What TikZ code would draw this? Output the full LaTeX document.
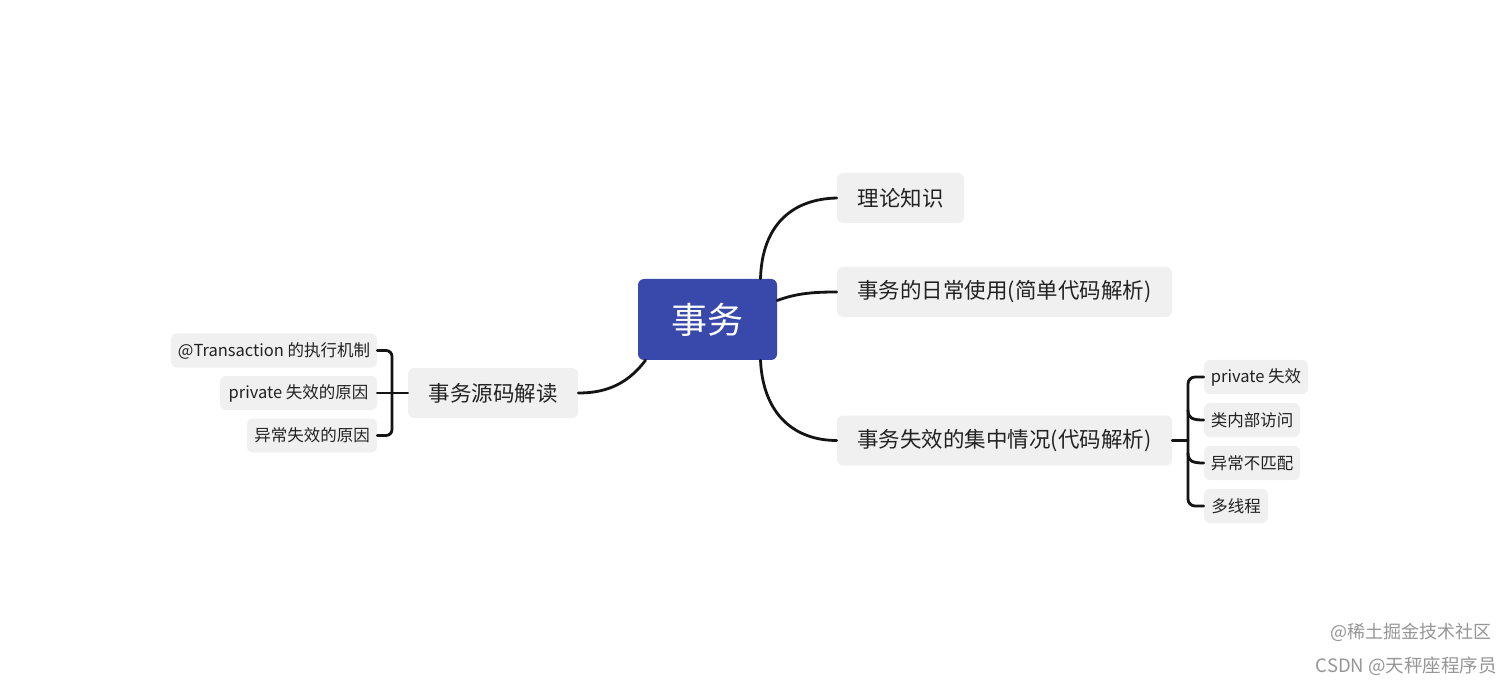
\documentclass[tikz,border=0pt]{standalone}
\usepackage{fontspec}
\setmainfont{Noto Sans CJK SC}
\begin{document}
\begin{tikzpicture}[x=1pt,y=-1pt,
  box/.style={fill=boxgray,rounded corners=6pt,inner sep=0pt,text=textdark,anchor=center},
  big/.style={box,minimum height=50pt,font=\fontsize{21.5}{24}\selectfont},
  small/.style={box,minimum height=34pt,font=\fontsize{16.5}{18}\selectfont},
  conn/.style={draw=linec,line width=2.8pt,line cap=round}]
\definecolor{boxgray}{RGB}{240,240,240}
\definecolor{rootblue}{RGB}{57,73,171}
\definecolor{textdark}{RGB}{34,34,34}
\definecolor{linec}{RGB}{20,20,20}
\definecolor{wmgray}{RGB}{150,150,150}
\useasboundingbox[fill=white] (0,0) rectangle (1512,684);

\node[fill=rootblue,rounded corners=6pt,minimum width=139pt,minimum height=81pt,inner sep=0pt,text=white,font=\fontsize{36}{40}\selectfont] (root) at (707.5,319.5) {事务};

\node[big,minimum width=127pt] (t1) at (900.5,198) {理论知识};
\node[big,minimum width=335pt] (t2) at (1004.5,292) {事务的日常使用(简单代码解析)};
\node[big,minimum width=335pt] (t3) at (1004.5,440.5) {事务失效的集中情况(代码解析)};
\node[big,minimum width=170pt] (src) at (493,393) {事务源码解读};

\node[small,minimum width=206pt] (l1) at (274,350.5) {@Transaction 的执行机制};
\node[small,minimum width=157pt] (l2) at (298.5,393) {private 失效的原因};
\node[small,minimum width=130pt] (l3) at (312,435.5) {异常失效的原因};

\node[small,minimum width=104pt] (r1) at (1256,377) {private 失效};
\node[small,minimum width=96pt] (r2) at (1252,420) {类内部访问};
\node[small,minimum width=96pt] (r3) at (1252,463) {异常不匹配};
\node[small,minimum width=64pt] (r4) at (1236,506) {多线程};

% main branches
\draw[conn] ([xshift=53pt]root.north) .. controls (762,225) and (792,199) .. (t1.west);
\draw[conn] ([yshift=19pt]root.east) .. controls (797,293) and (815,292) .. (t2.west);
\draw[conn] ([xshift=53pt]root.south) .. controls (763,415) and (795,440.5) .. (t3.west);
\draw[conn] ([xshift=-62pt]root.south) .. controls (625,388) and (600,393) .. (src.east);

% left bracket
\draw[conn,rounded corners=6pt] (l1.east) -- (392,350.5) -- (392,435.5) -- (l3.east);
\draw[conn] (l2.east) -- (src.west);

% right bracket
\draw[conn] (t3.east) -- (1188,440.5);
\draw[conn,rounded corners=7pt] (r1.west) -- (1188,377) -- (1188,506) -- (r4.west);
\draw[conn] (1188,410) .. controls (1188,418) and (1192,420) .. (r2.west);
\draw[conn] (1188,453) .. controls (1188,461) and (1192,463) .. (r3.west);

% watermark
\node[text=wmgray,font=\fontsize{18}{20}\selectfont,anchor=east,inner sep=0pt] (wm1) at (1492,632) {@稀土掘金技术社区};
\node[text=wmgray,font=\fontsize{18.5}{20}\selectfont,anchor=east,inner sep=0pt] (wm2) at (1497,666) {CSDN @天秤座程序员};
\end{tikzpicture}
\end{document}
